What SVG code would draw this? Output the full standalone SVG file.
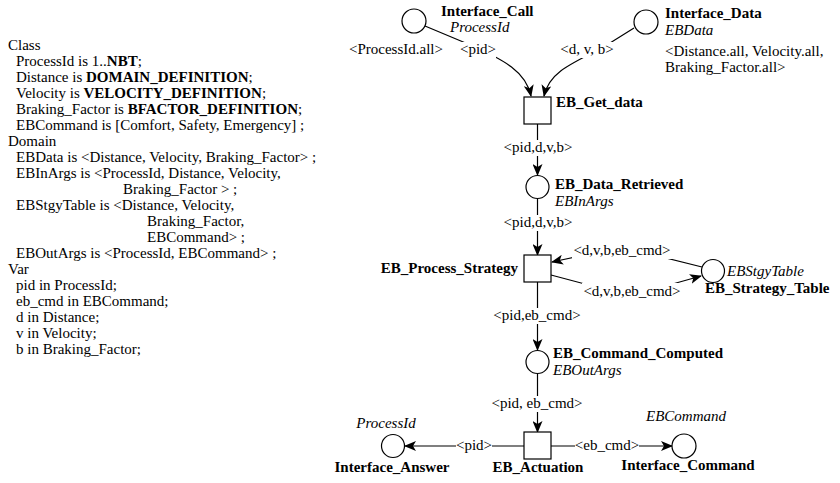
<svg xmlns="http://www.w3.org/2000/svg" width="840" height="483" viewBox="0 0 840 483">
<style>
text{font-family:"Liberation Serif","Times New Roman",serif;font-size:15px;fill:#000}
.b{font-weight:bold}
.i{font-style:italic}
.m{text-anchor:middle}
.e{text-anchor:end}
.bg{fill:#fff}
.place{fill:#fff;stroke:#000;stroke-width:1.2}
.trans{fill:#fff;stroke:#000;stroke-width:1.2}
.arc{fill:none;stroke:#000;stroke-width:1.2}
.arr{marker-end:url(#ah)}
</style>
<defs>
<marker id="ah" viewBox="0 0 12 10" refX="11" refY="5" markerWidth="12" markerHeight="10" markerUnits="userSpaceOnUse" orient="auto">
<path d="M0,0 L12,5 L0,10 L3,5 z" fill="#000"/>
</marker>
</defs>
<rect width="840" height="483" fill="#fff"/>
<g id="declarations">
<text x="8" y="50">Class</text>
<text x="16" y="66">ProcessId is 1..<tspan class="b">NBT</tspan>;</text>
<text x="16" y="82">Distance is  <tspan class="b">DOMAIN_DEFINITION</tspan>;</text>
<text x="16" y="98">Velocity is  <tspan class="b">VELOCITY_DEFINITION</tspan>;</text>
<text x="16" y="114">Braking_Factor is <tspan class="b">BFACTOR_DEFINITION</tspan>;</text>
<text x="16" y="130">EBCommand is [Comfort, Safety, Emergency] ;</text>
<text x="8" y="146">Domain</text>
<text x="16" y="162">EBData is &lt;Distance, Velocity, Braking_Factor&gt; ;</text>
<text x="16" y="178">EBInArgs is &lt;ProcessId, Distance, Velocity,</text>
<text x="123" y="194">Braking_Factor &gt; ;</text>
<text x="16" y="210">EBStgyTable is &lt;Distance, Velocity,</text>
<text x="147" y="226">Braking_Factor,</text>
<text x="147" y="242">EBCommand&gt; ;</text>
<text x="16" y="258">EBOutArgs is &lt;ProcessId, EBCommand&gt; ;</text>
<text x="8" y="274">Var</text>
<text x="16" y="290">pid in ProcessId;</text>
<text x="16" y="306">eb_cmd in EBCommand;</text>
<text x="16" y="322">d in Distance;</text>
<text x="16" y="338">v in Velocity;</text>
<text x="16" y="354">b in Braking_Factor;</text>
</g>
<g id="connectors">
<path class="arc arr" d="M425 26 L468 44 C505 60 526 72 531 96"/>
<path class="arc arr" d="M634 28 L602 48 C566 66 549 74 544 96"/>
<path class="arc arr" d="M537.5 124 L537.5 175"/>
<path class="arc arr" d="M537.5 199 L537.5 255"/>
<path class="arc arr" d="M702 267 L622 247 L552 262"/>
<path class="arc arr" d="M551 275 L630 296 L701 276"/>
<path class="arc arr" d="M537.5 282 L537.5 350"/>
<path class="arc arr" d="M537.5 374 L537.5 432"/>
<path class="arc arr" d="M524 446 L405 446"/>
<path class="arc arr" d="M551 446 L672 446"/>
<rect class="bg" x="460" y="42" width="36" height="16"/>
<rect class="bg" x="559" y="42" width="56" height="16"/>
<rect class="bg" x="501" y="140" width="74" height="16"/>
<rect class="bg" x="501" y="215" width="74" height="16"/>
<rect class="bg" x="572" y="243" width="100" height="16"/>
<rect class="bg" x="582" y="283" width="100" height="19"/>
<rect class="bg" x="492" y="308" width="90" height="16"/>
<rect class="bg" x="489" y="396" width="96" height="16"/>
<rect class="bg" x="456" y="438" width="36" height="16"/>
<rect class="bg" x="575" y="438" width="64" height="16"/>
<text class="m" x="396" y="54">&lt;ProcessId.all&gt;</text>
<text class="m" x="478" y="54">&lt;pid&gt;</text>
<text class="m" x="587" y="54">&lt;d, v, b&gt;</text>
<text class="m" x="538" y="152">&lt;pid,d,v,b&gt;</text>
<text class="m" x="538" y="227">&lt;pid,d,v,b&gt;</text>
<text class="m" x="622" y="255">&lt;d,v,b,eb_cmd&gt;</text>
<text class="m" x="632" y="296">&lt;d,v,b,eb_cmd&gt;</text>
<text class="m" x="537" y="320">&lt;pid,eb_cmd&gt;</text>
<text class="m" x="537" y="408">&lt;pid, eb_cmd&gt;</text>
<text class="m" x="474" y="450">&lt;pid&gt;</text>
<text class="m" x="607" y="450">&lt;eb_cmd&gt;</text>
</g>
<g id="Interface_Call">
<circle class="place" cx="414" cy="21" r="12"/>
<text class="b" x="441" y="16">Interface_Call</text>
<text class="i" x="450" y="32">ProcessId</text>
</g>
<g id="Interface_Data">
<circle class="place" cx="646" cy="22" r="12"/>
<text class="b" x="665" y="18">Interface_Data</text>
<text class="i" x="665" y="35">EBData</text>
<text x="665" y="56">&lt;Distance.all, Velocity.all,</text>
<text x="665" y="72">Braking_Factor.all&gt;</text>
</g>
<g id="EB_Get_data">
<rect class="trans" x="524" y="97" width="27" height="27"/>
<text class="b" x="556" y="107">EB_Get_data</text>
</g>
<g id="EB_Data_Retrieved">
<circle class="place" cx="537.5" cy="187" r="11.5"/>
<text class="b" x="555" y="189">EB_Data_Retrieved</text>
<text class="i" x="555" y="206">EBInArgs</text>
</g>
<g id="EB_Process_Strategy">
<rect class="trans" x="524" y="255" width="27" height="27"/>
<text class="b e" x="518" y="273">EB_Process_Strategy</text>
</g>
<g id="EB_Strategy_Table">
<circle class="place" cx="713" cy="271" r="11.5"/>
<text class="i" x="727" y="276">EBStgyTable</text>
<text class="b" x="705" y="293">EB_Strategy_Table</text>
</g>
<g id="EB_Command_Computed">
<circle class="place" cx="537.5" cy="362" r="11.5"/>
<text class="b" x="553" y="358">EB_Command_Computed</text>
<text class="i" x="553" y="375">EBOutArgs</text>
</g>
<g id="EB_Actuation">
<rect class="trans" x="524" y="432" width="27" height="27"/>
<text class="b m" x="538" y="472">EB_Actuation</text>
</g>
<g id="Interface_Answer">
<circle class="place" cx="393" cy="446" r="11.5"/>
<text class="i m" x="386" y="428">ProcessId</text>
<text class="b m" x="392" y="472">Interface_Answer</text>
</g>
<g id="Interface_Command">
<circle class="place" cx="684" cy="446" r="12"/>
<text class="i m" x="686" y="421">EBCommand</text>
<text class="b m" x="688" y="470">Interface_Command</text>
</g>
</svg>
